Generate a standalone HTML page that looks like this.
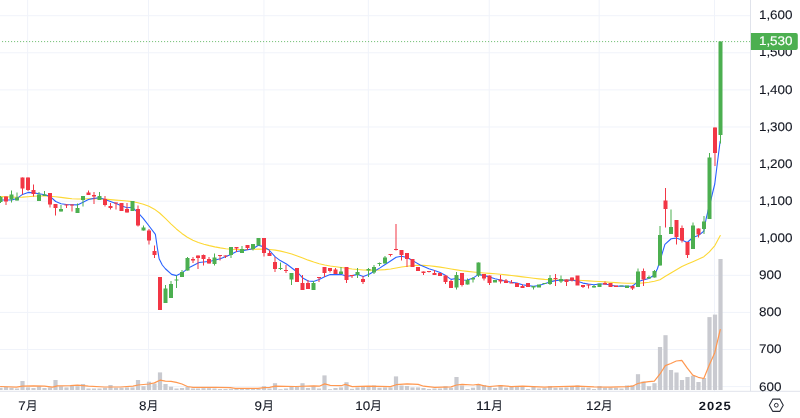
<!DOCTYPE html>
<html lang="ja">
<head>
<meta charset="utf-8">
<title>Chart</title>
<style>
html,body{margin:0;padding:0;background:#ffffff;}
body{width:800px;height:418px;overflow:hidden;font-family:"Liberation Sans","Noto Sans CJK JP",sans-serif;}
svg{display:block;}
</style>
</head>
<body>
<svg width="800" height="418" viewBox="0 0 800 418">
<rect x="0" y="0" width="800" height="418" fill="#ffffff"/>
<g stroke="#f0f3fa" stroke-width="1" fill="none">
<line x1="0" y1="15.7" x2="750.5" y2="15.7"/>
<line x1="0" y1="52.79" x2="750.5" y2="52.79"/>
<line x1="0" y1="89.88" x2="750.5" y2="89.88"/>
<line x1="0" y1="126.97" x2="750.5" y2="126.97"/>
<line x1="0" y1="164.06" x2="750.5" y2="164.06"/>
<line x1="0" y1="201.15" x2="750.5" y2="201.15"/>
<line x1="0" y1="238.24" x2="750.5" y2="238.24"/>
<line x1="0" y1="275.33" x2="750.5" y2="275.33"/>
<line x1="0" y1="312.42" x2="750.5" y2="312.42"/>
<line x1="0" y1="349.51" x2="750.5" y2="349.51"/>
<line x1="0" y1="386.6" x2="750.5" y2="386.6"/>
<line x1="27.65" y1="0" x2="27.65" y2="391.3"/>
<line x1="148.54" y1="0" x2="148.54" y2="391.3"/>
<line x1="263.94" y1="0" x2="263.94" y2="391.3"/>
<line x1="368.34" y1="0" x2="368.34" y2="391.3"/>
<line x1="489.23" y1="0" x2="489.23" y2="391.3"/>
<line x1="599.13" y1="0" x2="599.13" y2="391.3"/>
<line x1="714.52" y1="0" x2="714.52" y2="391.3"/>
</g>
<g fill="#c9cad0">
<rect x="-1.6" y="387.7" width="4.2" height="2.3"/>
<rect x="3.9" y="387" width="4.2" height="3"/>
<rect x="9.4" y="387.7" width="4.2" height="2.3"/>
<rect x="14.9" y="388.5" width="4.2" height="1.5"/>
<rect x="20.4" y="381" width="4.2" height="9"/>
<rect x="25.9" y="387.4" width="4.2" height="2.6"/>
<rect x="31.4" y="388" width="4.2" height="2"/>
<rect x="36.9" y="386.2" width="4.2" height="3.8"/>
<rect x="42.4" y="388" width="4.2" height="2"/>
<rect x="47.9" y="387.4" width="4.2" height="2.6"/>
<rect x="53.4" y="380" width="4.2" height="10"/>
<rect x="58.9" y="386.2" width="4.2" height="3.8"/>
<rect x="64.4" y="387.4" width="4.2" height="2.6"/>
<rect x="69.9" y="385.5" width="4.2" height="4.5"/>
<rect x="75.4" y="386.2" width="4.2" height="3.8"/>
<rect x="80.9" y="384" width="4.2" height="6"/>
<rect x="86.4" y="388.5" width="4.2" height="1.5"/>
<rect x="91.9" y="388.5" width="4.2" height="1.5"/>
<rect x="97.4" y="388.5" width="4.2" height="1.5"/>
<rect x="102.9" y="387.7" width="4.2" height="2.3"/>
<rect x="108.4" y="385" width="4.2" height="5"/>
<rect x="113.9" y="387.7" width="4.2" height="2.3"/>
<rect x="119.4" y="387.7" width="4.2" height="2.3"/>
<rect x="124.9" y="387.4" width="4.2" height="2.6"/>
<rect x="130.4" y="387.4" width="4.2" height="2.6"/>
<rect x="135.9" y="380" width="4.2" height="10"/>
<rect x="141.4" y="386.2" width="4.2" height="3.8"/>
<rect x="146.9" y="381.7" width="4.2" height="8.3"/>
<rect x="152.4" y="383.5" width="4.2" height="6.5"/>
<rect x="157.9" y="372.4" width="4.2" height="17.6"/>
<rect x="163.4" y="384" width="4.2" height="6"/>
<rect x="168.9" y="386.7" width="4.2" height="3.3"/>
<rect x="174.4" y="388.5" width="4.2" height="1.5"/>
<rect x="179.9" y="388" width="4.2" height="2"/>
<rect x="185.4" y="387" width="4.2" height="3"/>
<rect x="190.9" y="388.5" width="4.2" height="1.5"/>
<rect x="195.9" y="388.5" width="4.2" height="1.5"/>
<rect x="201.4" y="388.2" width="4.2" height="1.8"/>
<rect x="206.9" y="388.2" width="4.2" height="1.8"/>
<rect x="212.4" y="388.5" width="4.2" height="1.5"/>
<rect x="217.9" y="389" width="4.2" height="1"/>
<rect x="223.4" y="389" width="4.2" height="1"/>
<rect x="228.9" y="388.8" width="4.2" height="1.2"/>
<rect x="234.4" y="388.8" width="4.2" height="1.2"/>
<rect x="239.9" y="388.8" width="4.2" height="1.2"/>
<rect x="245.4" y="388.8" width="4.2" height="1.2"/>
<rect x="250.9" y="388.8" width="4.2" height="1.2"/>
<rect x="256.4" y="388.8" width="4.2" height="1.2"/>
<rect x="261.9" y="386.2" width="4.2" height="3.8"/>
<rect x="267.4" y="388.5" width="4.2" height="1.5"/>
<rect x="272.9" y="383.2" width="4.2" height="6.8"/>
<rect x="278.4" y="389.2" width="4.2" height="0.8"/>
<rect x="283.9" y="388.5" width="4.2" height="1.5"/>
<rect x="289.4" y="387" width="4.2" height="3"/>
<rect x="294.9" y="387" width="4.2" height="3"/>
<rect x="300.4" y="383.2" width="4.2" height="6.8"/>
<rect x="305.9" y="388" width="4.2" height="2"/>
<rect x="311.4" y="386.2" width="4.2" height="3.8"/>
<rect x="316.9" y="388.5" width="4.2" height="1.5"/>
<rect x="322.4" y="375.4" width="4.2" height="14.6"/>
<rect x="327.9" y="389.2" width="4.2" height="0.8"/>
<rect x="333.4" y="388" width="4.2" height="2"/>
<rect x="338.9" y="387.4" width="4.2" height="2.6"/>
<rect x="344.4" y="382.2" width="4.2" height="7.8"/>
<rect x="349.9" y="388.8" width="4.2" height="1.2"/>
<rect x="355.4" y="387.4" width="4.2" height="2.6"/>
<rect x="360.9" y="387" width="4.2" height="3"/>
<rect x="366.4" y="386.2" width="4.2" height="3.8"/>
<rect x="371.9" y="385.5" width="4.2" height="4.5"/>
<rect x="377.4" y="387.7" width="4.2" height="2.3"/>
<rect x="382.9" y="387.4" width="4.2" height="2.6"/>
<rect x="388.4" y="387.4" width="4.2" height="2.6"/>
<rect x="393.9" y="376.4" width="4.2" height="13.6"/>
<rect x="399.4" y="385.5" width="4.2" height="4.5"/>
<rect x="404.9" y="386" width="4.2" height="4"/>
<rect x="410.4" y="387.4" width="4.2" height="2.6"/>
<rect x="415.9" y="387.4" width="4.2" height="2.6"/>
<rect x="421.4" y="388" width="4.2" height="2"/>
<rect x="426.9" y="389" width="4.2" height="1"/>
<rect x="432.4" y="388.5" width="4.2" height="1.5"/>
<rect x="437.9" y="388.5" width="4.2" height="1.5"/>
<rect x="443.4" y="386.2" width="4.2" height="3.8"/>
<rect x="448.9" y="387.7" width="4.2" height="2.3"/>
<rect x="454.4" y="377" width="4.2" height="13"/>
<rect x="459.9" y="385.5" width="4.2" height="4.5"/>
<rect x="465.4" y="389" width="4.2" height="1"/>
<rect x="470.9" y="387.7" width="4.2" height="2.3"/>
<rect x="476.4" y="384.4" width="4.2" height="5.6"/>
<rect x="481.9" y="385" width="4.2" height="5"/>
<rect x="487.4" y="386.2" width="4.2" height="3.8"/>
<rect x="492.9" y="388" width="4.2" height="2"/>
<rect x="498.4" y="385" width="4.2" height="5"/>
<rect x="503.9" y="387.7" width="4.2" height="2.3"/>
<rect x="509.4" y="387" width="4.2" height="3"/>
<rect x="514.9" y="386.2" width="4.2" height="3.8"/>
<rect x="520.4" y="386.5" width="4.2" height="3.5"/>
<rect x="525.9" y="389" width="4.2" height="1"/>
<rect x="531.4" y="387" width="4.2" height="3"/>
<rect x="536.9" y="388.5" width="4.2" height="1.5"/>
<rect x="542.4" y="388" width="4.2" height="2"/>
<rect x="547.9" y="386" width="4.2" height="4"/>
<rect x="553.4" y="387.7" width="4.2" height="2.3"/>
<rect x="558.9" y="387.7" width="4.2" height="2.3"/>
<rect x="564.4" y="387.4" width="4.2" height="2.6"/>
<rect x="569.9" y="387" width="4.2" height="3"/>
<rect x="575.4" y="385.5" width="4.2" height="4.5"/>
<rect x="580.9" y="387.4" width="4.2" height="2.6"/>
<rect x="586.4" y="387.7" width="4.2" height="2.3"/>
<rect x="591.9" y="389" width="4.2" height="1"/>
<rect x="597.4" y="386" width="4.2" height="4"/>
<rect x="602.9" y="387.7" width="4.2" height="2.3"/>
<rect x="608.4" y="387.7" width="4.2" height="2.3"/>
<rect x="613.9" y="387.7" width="4.2" height="2.3"/>
<rect x="619.4" y="388.5" width="4.2" height="1.5"/>
<rect x="624.9" y="385.5" width="4.2" height="4.5"/>
<rect x="630.4" y="385.5" width="4.2" height="4.5"/>
<rect x="635.9" y="374.2" width="4.2" height="15.8"/>
<rect x="641.4" y="381.5" width="4.2" height="8.5"/>
<rect x="646.9" y="386.2" width="4.2" height="3.8"/>
<rect x="652.4" y="383.2" width="4.2" height="6.8"/>
<rect x="657.9" y="347" width="4.2" height="43"/>
<rect x="663.4" y="335.2" width="4.2" height="54.8"/>
<rect x="668.9" y="370" width="4.2" height="20"/>
<rect x="674.4" y="372.5" width="4.2" height="17.5"/>
<rect x="679.9" y="380" width="4.2" height="10"/>
<rect x="685.4" y="377" width="4.2" height="13"/>
<rect x="690.9" y="375.7" width="4.2" height="14.3"/>
<rect x="696.4" y="382" width="4.2" height="8"/>
<rect x="701.9" y="378" width="4.2" height="12"/>
<rect x="707.4" y="317.1" width="4.2" height="72.9"/>
<rect x="712.9" y="314.6" width="4.2" height="75.4"/>
<rect x="718.4" y="259" width="4.2" height="131"/>
</g>
<path d="M0.52 386.5 L16.51 387.2 L22.5 386.2 L33.49 385.8 L44.48 386.2 L52.48 387.2 L57.47 385.8 L70.46 385.6 L77.45 385.2 L88.44 386.2 L104.43 387 L120.42 387 L133 386.2 L138 385 L148.99 384 L154.38 382.9 L159.98 380.2 L165.37 381.2 L170.97 381.4 L176.36 382.4 L181.96 384 L187.35 386.5 L192.95 387.4 L215.83 387.4 L230.32 387.7 L235.31 388.4 L257.99 388.4 L264.28 387.7 L269.68 387.4 L275.27 386.2 L295.66 386.5 L313.74 385.9 L319.23 386.2 L324.73 383.9 L330.22 385.4 L341.21 385.7 L345.21 384.4 L352.2 386.6 L368.59 386.2 L390.47 386.6 L396.16 384.7 L407.15 383.9 L418.14 384.4 L423.64 386.2 L434.63 387.4 L451.11 386.9 L456.51 385 L462.1 384.4 L473.09 385 L478.49 384.4 L484.08 385.9 L489.48 386.5 L500.57 385.7 L511.56 386.6 L522.55 386.2 L533.54 386.6 L544.53 387.2 L550.02 386.8 L577.4 386.2 L593.98 386.9 L610.27 387.2 L626.95 386.6 L632.35 386.2 L637.85 383.5 L643.34 382.3 L648.84 381.6 L654.33 381.1 L659.83 374.2 L665.32 365.6 L670.82 363.5 L676.31 361 L681.81 360.4 L687.3 368.2 L692.79 375.1 L698.29 377.3 L703.78 378.5 L709.28 365.1 L714.77 352.7 L720.27 329.5" fill="none" stroke="#ff9850" stroke-width="1.2" stroke-linejoin="round" stroke-linecap="round"/>
<path d="M0.52 196.6 L6.02 196.82 L11.51 197.05 L17.01 197.21 L22.5 197.13 L28 196.74 L33.49 196.28 L38.99 196.05 L44.48 196.04 L49.98 196.25 L55.47 196.73 L60.97 197.39 L66.46 198.09 L71.96 198.68 L77.45 199.01 L82.95 199.02 L88.44 198.82 L93.94 198.63 L99.43 198.7 L104.93 199.08 L110.42 199.61 L115.92 200.08 L121.41 200.5 L126.91 200.96 L132.4 201.64 L137.9 202.71 L143.39 204.2 L148.89 206.23 L154.38 209.15 L159.88 213.26 L165.37 218.36 L170.87 223.84 L176.36 228.97 L181.86 233.43 L187.35 237.22 L192.85 240.2 L198.34 242.45 L203.84 244.21 L209.33 245.65 L214.83 246.86 L220.32 247.89 L225.82 248.72 L231.31 249.29 L236.81 249.57 L242.3 249.6 L247.8 249.47 L253.29 249.28 L258.79 249.17 L264.28 249.22 L269.78 249.52 L275.27 250.14 L280.77 251.15 L286.26 252.47 L291.76 254.05 L297.25 255.93 L302.75 258.02 L308.24 260.14 L313.74 262.09 L319.23 263.72 L324.73 265.02 L330.22 265.98 L335.72 266.74 L341.21 267.48 L346.71 268.27 L352.2 269 L357.7 269.57 L363.19 269.94 L368.69 270.12 L374.18 270.13 L379.68 270 L385.17 269.63 L390.67 268.95 L396.16 268.02 L401.66 267.04 L407.15 266.2 L412.65 265.6 L418.14 265.31 L423.64 265.36 L429.13 265.73 L434.63 266.36 L440.12 267.16 L445.62 268.07 L451.11 269 L456.61 269.9 L462.1 270.71 L467.6 271.42 L473.09 272.02 L478.59 272.54 L484.08 272.98 L489.58 273.38 L495.07 273.82 L500.57 274.32 L506.06 274.88 L511.56 275.5 L517.05 276.15 L522.55 276.83 L528.04 277.52 L533.54 278.21 L539.03 278.86 L544.53 279.41 L550.02 279.81 L555.52 280.04 L561.01 280.12 L566.51 280.12 L572 280.17 L577.5 280.32 L582.99 280.57 L588.49 280.88 L593.98 281.23 L599.48 281.56 L604.97 281.87 L610.47 282.2 L615.96 282.58 L621.46 282.94 L626.95 283.2 L632.45 283.3 L637.94 283.21 L643.44 282.89 L648.93 282.27 L654.43 281.21 L659.92 279.75 L665.42 276.34 L670.91 272.93 L676.41 269.67 L681.9 266.57 L687.4 264.12 L692.89 261.68 L698.39 259.23 L703.88 256.68 L709.38 251.89 L714.87 245.6 L720.27 235.6" fill="none" stroke="#fdd835" stroke-width="1.1" stroke-linejoin="round" stroke-linecap="round"/>
<path d="M0.52 200 L11.81 200 L17.11 198.4 L22.5 194.4 L28.1 192.4 L33.49 192.9 L39.19 193.7 L44.68 194.8 L50.08 196.4 L55.67 201.5 L61.07 203.7 L66.46 204.5 L71.96 204.8 L77.45 204.9 L83.05 202.2 L88.44 199.5 L94.04 198.4 L99.43 197.7 L105.03 199.5 L110.42 201.5 L116.02 203.5 L121.41 205.8 L127.01 207.8 L132.4 207.3 L138 212.6 L143.39 218.6 L148.69 225.5 L155.38 234.4 L157.28 247.5 L159.13 258.75 L162.28 265 L165.37 268.75 L171.62 274.4 L176.61 275.6 L181.61 273.1 L190.35 266.9 L199.09 262.5 L210.33 261.25 L220.32 258.75 L230.32 254.8 L236.56 251.5 L242.8 250.6 L252.8 248.75 L258.39 245.25 L264.04 246.9 L269.03 250 L275.27 256.9 L280.27 260.6 L286.51 264 L291.51 267.8 L297.75 272.5 L302.75 278.1 L308.24 281 L313.54 281.4 L319.13 279.6 L324.63 276.7 L330.22 274.5 L335.22 274.6 L341.46 274.4 L346.46 276.25 L352.11 275.6 L357.7 274.4 L363.29 276.6 L368.69 274.4 L373.94 271.5 L379.58 268.1 L385.17 264.5 L390.17 261.25 L396.16 257.3 L401.41 256.2 L407.06 257.5 L412.65 260.6 L420.14 265 L428.89 268.75 L434.53 270.6 L440.12 272.5 L445.72 275.6 L451.01 279.4 L456.51 278.5 L462 280.25 L467.5 280 L473 278.1 L478.49 274.4 L483.99 275.6 L489.48 276.9 L494.98 278.75 L500.47 280 L505.96 281.25 L511.46 282.25 L516.96 283.1 L522.45 284.75 L527.95 285.6 L533.44 286.25 L538.94 285.6 L544.43 283.75 L549.92 281.9 L555.42 280.6 L560.91 280 L566.41 280.25 L571.9 280 L577.4 281.25 L582.89 283.1 L588.39 284 L593.88 284.75 L599.38 284 L604.88 284 L610.37 285 L615.87 286.25 L621.36 286 L626.86 286.25 L632.35 286.25 L636.2 283.1 L639.94 281 L643.34 280 L648.84 278.5 L654.33 275 L657.43 268.75 L659.92 261 L664.92 244.4 L671.16 238.75 L676.31 238.1 L681.81 240 L687.3 242.5 L692.79 237.5 L698.29 235.6 L703.78 231.25 L706.13 218.75 L709.28 206 L711.13 198.75 L714.77 184 L717.37 163 L720.17 141" fill="none" stroke="#2962ff" stroke-width="1.1" stroke-linejoin="round" stroke-linecap="round"/>
<g fill="#4caf50">
<rect x="0" y="196" width="1" height="7"/>
<rect x="-1.5" y="197" width="4" height="5"/>
<rect x="11" y="190.5" width="1" height="12"/>
<rect x="9.5" y="194.5" width="4" height="5"/>
<rect x="16.5" y="192.5" width="1" height="8"/>
<rect x="15" y="197.5" width="4" height="3"/>
<rect x="38.5" y="192" width="1" height="9"/>
<rect x="37" y="194.5" width="4" height="6.5"/>
<rect x="44" y="191" width="1" height="5"/>
<rect x="42.5" y="194.5" width="4" height="1.5"/>
<rect x="60.5" y="205" width="1" height="6.5"/>
<rect x="59" y="209" width="4" height="2.5"/>
<rect x="77" y="203.5" width="1" height="9.5"/>
<rect x="75.5" y="208" width="4" height="5"/>
<rect x="82.5" y="196" width="1" height="10.5"/>
<rect x="81" y="196" width="4" height="4"/>
<rect x="99" y="192" width="1" height="8"/>
<rect x="97.5" y="196" width="4" height="4"/>
<rect x="130.5" y="201" width="4" height="10"/>
<rect x="143" y="225.5" width="1" height="5"/>
<rect x="141.5" y="227.5" width="4" height="3"/>
<rect x="165" y="285" width="1" height="18"/>
<rect x="163.5" y="288.5" width="4" height="14.5"/>
<rect x="170.5" y="281" width="1" height="17"/>
<rect x="169" y="284" width="4" height="14"/>
<rect x="176" y="275.5" width="1" height="12.5"/>
<rect x="174.5" y="279.5" width="4" height="1"/>
<rect x="181.5" y="270" width="1" height="7"/>
<rect x="180" y="272" width="4" height="5"/>
<rect x="187" y="257" width="1" height="13.5"/>
<rect x="185.5" y="258" width="4" height="12.5"/>
<rect x="214" y="253.5" width="1" height="12"/>
<rect x="212.5" y="257.5" width="4" height="6.5"/>
<rect x="230.5" y="247" width="1" height="11"/>
<rect x="229" y="247" width="4" height="8"/>
<rect x="241.5" y="246" width="1" height="7"/>
<rect x="240" y="249" width="4" height="4"/>
<rect x="252.5" y="244" width="1" height="6.5"/>
<rect x="251" y="244" width="4" height="5"/>
<rect x="256.5" y="238" width="4" height="7.5"/>
<rect x="280" y="262.5" width="1" height="7.5"/>
<rect x="278.5" y="268" width="4" height="1"/>
<rect x="291" y="273" width="1" height="12"/>
<rect x="289.5" y="273" width="4" height="6.5"/>
<rect x="313" y="281" width="1" height="9"/>
<rect x="311.5" y="283" width="4" height="7"/>
<rect x="340.5" y="267" width="1" height="7"/>
<rect x="339" y="271.5" width="4" height="2.5"/>
<rect x="357" y="268" width="1" height="10"/>
<rect x="355.5" y="272" width="4" height="3"/>
<rect x="368" y="268" width="1" height="9"/>
<rect x="366.5" y="269" width="4" height="1.5"/>
<rect x="373.5" y="265" width="1" height="9"/>
<rect x="372" y="267" width="4" height="5.5"/>
<rect x="379" y="262.5" width="1" height="3.5"/>
<rect x="377.5" y="263" width="4" height="1"/>
<rect x="384.5" y="256" width="1" height="7.5"/>
<rect x="383" y="257.5" width="4" height="6"/>
<rect x="456" y="272" width="1" height="17.5"/>
<rect x="454.5" y="275" width="4" height="12.5"/>
<rect x="467" y="278.5" width="1" height="6"/>
<rect x="465.5" y="280" width="4" height="4.5"/>
<rect x="472.5" y="277" width="1" height="5.5"/>
<rect x="471" y="278" width="4" height="1.5"/>
<rect x="478" y="262.5" width="1" height="14.5"/>
<rect x="476.5" y="262.5" width="4" height="13"/>
<rect x="493" y="280" width="4" height="2.5"/>
<rect x="533" y="286" width="1" height="3.5"/>
<rect x="531.5" y="286" width="4" height="1.5"/>
<rect x="537" y="284.5" width="4" height="3"/>
<rect x="542.5" y="283" width="4" height="1"/>
<rect x="549.5" y="275" width="1" height="10"/>
<rect x="548" y="278" width="4" height="6"/>
<rect x="560.5" y="275.5" width="1" height="7.5"/>
<rect x="559" y="279" width="4" height="2.5"/>
<rect x="593.5" y="285" width="1" height="2.5"/>
<rect x="592" y="286" width="4" height="1.5"/>
<rect x="597.5" y="283.5" width="4" height="3.5"/>
<rect x="619.5" y="285.5" width="4" height="1"/>
<rect x="625" y="285.5" width="4" height="2.5"/>
<rect x="637.5" y="268.5" width="1" height="18.5"/>
<rect x="636" y="271.5" width="4" height="15.5"/>
<rect x="648.5" y="275.5" width="1" height="3"/>
<rect x="647" y="277" width="4" height="1.5"/>
<rect x="654" y="270" width="1" height="7.5"/>
<rect x="652.5" y="271" width="4" height="6.5"/>
<rect x="659.5" y="226" width="1" height="39.5"/>
<rect x="658" y="235" width="4" height="30.5"/>
<rect x="670.5" y="209.5" width="1" height="24.5"/>
<rect x="669" y="227" width="4" height="7"/>
<rect x="692.5" y="222.5" width="1" height="26.5"/>
<rect x="691" y="225.5" width="4" height="23.5"/>
<rect x="703.5" y="216" width="1" height="18"/>
<rect x="702" y="221.5" width="4" height="7.5"/>
<rect x="709" y="153" width="1" height="66"/>
<rect x="707.5" y="157.5" width="4" height="61.5"/>
<rect x="720" y="41.5" width="1" height="102"/>
<rect x="718.5" y="41.5" width="4" height="93.5"/>
</g>
<g fill="#f23645">
<rect x="5.5" y="196.5" width="1" height="8.5"/>
<rect x="4" y="196.5" width="4" height="5"/>
<rect x="22" y="177.5" width="1" height="17"/>
<rect x="20.5" y="177.5" width="4" height="11"/>
<rect x="27.5" y="177.5" width="1" height="13.5"/>
<rect x="26" y="177.5" width="4" height="12.5"/>
<rect x="33" y="184.5" width="1" height="12"/>
<rect x="31.5" y="190" width="4" height="4"/>
<rect x="49.5" y="193" width="1" height="14.5"/>
<rect x="48" y="193" width="4" height="11.5"/>
<rect x="55" y="204" width="1" height="11.5"/>
<rect x="53.5" y="204" width="4" height="4"/>
<rect x="66" y="204.5" width="1" height="3.5"/>
<rect x="64.5" y="204.5" width="4" height="1"/>
<rect x="71.5" y="204.5" width="1" height="7"/>
<rect x="70" y="204.5" width="4" height="1"/>
<rect x="88" y="190.5" width="1" height="4.5"/>
<rect x="86.5" y="192.5" width="4" height="2.5"/>
<rect x="93.5" y="192" width="1" height="12"/>
<rect x="92" y="195" width="4" height="1.5"/>
<rect x="104.5" y="196" width="1" height="10.5"/>
<rect x="103" y="199" width="4" height="6"/>
<rect x="110" y="203" width="1" height="6.5"/>
<rect x="108.5" y="206" width="4" height="2"/>
<rect x="115.5" y="202.5" width="1" height="7"/>
<rect x="114" y="202.5" width="4" height="1"/>
<rect x="119.5" y="203" width="4" height="8"/>
<rect x="126.5" y="203" width="1" height="9.5"/>
<rect x="125" y="209" width="4" height="3.5"/>
<rect x="137.5" y="205.5" width="1" height="21"/>
<rect x="136" y="209" width="4" height="16.5"/>
<rect x="148.5" y="229" width="1" height="15.5"/>
<rect x="147" y="230.5" width="4" height="10"/>
<rect x="154" y="245.5" width="1" height="12.5"/>
<rect x="152.5" y="251" width="4" height="4"/>
<rect x="158" y="277" width="4" height="33"/>
<rect x="192.5" y="257" width="1" height="6"/>
<rect x="191" y="259" width="4" height="1.5"/>
<rect x="197.5" y="255.5" width="1" height="13.5"/>
<rect x="196" y="255.5" width="4" height="2.5"/>
<rect x="203" y="254.5" width="1" height="11"/>
<rect x="201.5" y="255" width="4" height="4"/>
<rect x="208.5" y="257" width="1" height="6.5"/>
<rect x="207" y="259" width="4" height="4.5"/>
<rect x="219.5" y="255" width="1" height="5.5"/>
<rect x="218" y="255" width="4" height="1"/>
<rect x="225" y="255.5" width="1" height="2.5"/>
<rect x="223.5" y="255.5" width="4" height="1"/>
<rect x="236" y="247" width="1" height="5"/>
<rect x="234.5" y="247" width="4" height="1.5"/>
<rect x="247" y="245" width="1" height="5"/>
<rect x="245.5" y="245" width="4" height="3"/>
<rect x="263.5" y="238" width="1" height="18.5"/>
<rect x="262" y="238" width="4" height="15"/>
<rect x="269" y="250.5" width="1" height="5.5"/>
<rect x="267.5" y="253" width="4" height="3"/>
<rect x="274.5" y="257" width="1" height="15"/>
<rect x="273" y="262" width="4" height="7"/>
<rect x="285.5" y="265" width="1" height="8"/>
<rect x="284" y="270" width="4" height="1"/>
<rect x="295" y="268" width="4" height="14"/>
<rect x="302" y="275" width="1" height="15"/>
<rect x="300.5" y="283" width="4" height="7"/>
<rect x="307.5" y="280" width="1" height="9"/>
<rect x="306" y="283" width="4" height="6"/>
<rect x="318.5" y="277" width="1" height="5"/>
<rect x="317" y="277" width="4" height="1"/>
<rect x="324" y="267" width="1" height="10"/>
<rect x="322.5" y="267" width="4" height="6"/>
<rect x="329.5" y="268" width="1" height="4.5"/>
<rect x="328" y="268" width="4" height="3"/>
<rect x="335" y="268" width="1" height="6"/>
<rect x="333.5" y="269.5" width="4" height="4.5"/>
<rect x="346" y="267" width="1" height="16"/>
<rect x="344.5" y="267" width="4" height="13"/>
<rect x="351.5" y="275" width="1" height="3"/>
<rect x="350" y="275" width="4" height="1"/>
<rect x="362.5" y="276" width="1" height="8"/>
<rect x="361" y="279" width="4" height="3"/>
<rect x="390" y="254" width="1" height="2.5"/>
<rect x="388.5" y="254" width="4" height="1"/>
<rect x="395.5" y="224" width="1" height="26.5"/>
<rect x="394" y="249" width="4" height="1"/>
<rect x="401" y="250" width="1" height="10.5"/>
<rect x="399.5" y="250" width="4" height="5"/>
<rect x="406.5" y="253" width="1" height="14"/>
<rect x="405" y="253" width="4" height="6"/>
<rect x="410.5" y="259" width="4" height="8"/>
<rect x="416" y="267" width="4" height="4"/>
<rect x="423" y="271.5" width="1" height="3.5"/>
<rect x="421.5" y="271.5" width="4" height="1.5"/>
<rect x="428.5" y="271" width="1" height="1.5"/>
<rect x="427" y="271" width="4" height="1"/>
<rect x="434" y="270" width="1" height="5"/>
<rect x="432.5" y="273" width="4" height="2"/>
<rect x="438" y="273" width="4" height="3"/>
<rect x="445" y="275.5" width="1" height="8.5"/>
<rect x="443.5" y="275.5" width="4" height="6.5"/>
<rect x="450.5" y="280" width="1" height="8"/>
<rect x="449" y="281" width="4" height="7"/>
<rect x="461.5" y="273" width="1" height="13.5"/>
<rect x="460" y="273" width="4" height="12"/>
<rect x="483.5" y="274" width="1" height="6.5"/>
<rect x="482" y="274" width="4" height="4.5"/>
<rect x="489" y="275.5" width="1" height="9.5"/>
<rect x="487.5" y="275.5" width="4" height="7.5"/>
<rect x="500" y="275" width="1" height="8.5"/>
<rect x="498.5" y="279.5" width="4" height="2"/>
<rect x="505.5" y="279" width="1" height="4"/>
<rect x="504" y="280.5" width="4" height="2.5"/>
<rect x="511" y="280" width="1" height="3"/>
<rect x="509.5" y="282.5" width="4" height="1"/>
<rect x="515" y="283" width="4" height="4"/>
<rect x="522" y="284.5" width="1" height="3.5"/>
<rect x="520.5" y="286" width="4" height="2"/>
<rect x="526" y="283" width="4" height="4"/>
<rect x="555" y="274" width="1" height="12"/>
<rect x="553.5" y="278" width="4" height="1"/>
<rect x="566" y="279.5" width="1" height="6.5"/>
<rect x="564.5" y="279.5" width="4" height="2.5"/>
<rect x="571.5" y="277.5" width="1" height="4"/>
<rect x="570" y="277.5" width="4" height="3"/>
<rect x="575.5" y="275.5" width="4" height="10"/>
<rect x="582.5" y="285" width="1" height="3"/>
<rect x="581" y="285" width="4" height="2"/>
<rect x="588" y="284.5" width="1" height="4"/>
<rect x="586.5" y="284.5" width="4" height="1"/>
<rect x="604.5" y="281.5" width="1" height="3"/>
<rect x="603" y="283" width="4" height="1.5"/>
<rect x="608.5" y="283" width="4" height="4"/>
<rect x="614" y="285.5" width="4" height="1.5"/>
<rect x="632" y="285.5" width="1" height="4.5"/>
<rect x="630.5" y="286" width="4" height="2.5"/>
<rect x="643" y="268.5" width="1" height="17.5"/>
<rect x="641.5" y="271" width="4" height="8.5"/>
<rect x="665" y="188" width="1" height="39.5"/>
<rect x="663.5" y="200.5" width="4" height="8.5"/>
<rect x="676" y="220" width="1" height="24.5"/>
<rect x="674.5" y="220" width="4" height="17"/>
<rect x="681.5" y="225.5" width="1" height="17"/>
<rect x="680" y="228" width="4" height="12.5"/>
<rect x="687" y="242" width="1" height="16"/>
<rect x="685.5" y="242" width="4" height="13"/>
<rect x="698" y="228.5" width="1" height="9"/>
<rect x="696.5" y="228.5" width="4" height="6"/>
<rect x="714.5" y="127.5" width="1" height="38.5"/>
<rect x="713" y="127.5" width="4" height="25.5"/>
</g>
<line x1="2.1" y1="41.6" x2="750.5" y2="41.6" stroke="#4caf50" stroke-width="1" stroke-dasharray="1 2" stroke-opacity="0.85"/>
<rect x="751" y="0" width="49.5" height="418" fill="#ffffff"/>
<rect x="0" y="391.8" width="800" height="26.7" fill="#ffffff"/>
<line x1="750.5" y1="0" x2="750.5" y2="391.3" stroke="#e0e3eb" stroke-width="1"/>
<line x1="0" y1="391.3" x2="800" y2="391.3" stroke="#e0e3eb" stroke-width="1"/>
<g font-family="'Liberation Sans', 'Noto Sans CJK JP', sans-serif" font-size="12.5" fill="#131722" stroke="#131722" stroke-width="0.1" text-rendering="geometricPrecision">
<text x="758.9" y="19.4" textLength="33.7" lengthAdjust="spacingAndGlyphs">1,600</text>
<text x="758.9" y="56.49" textLength="33.7" lengthAdjust="spacingAndGlyphs">1,500</text>
<text x="758.9" y="93.58" textLength="33.7" lengthAdjust="spacingAndGlyphs">1,400</text>
<text x="758.9" y="130.67" textLength="33.7" lengthAdjust="spacingAndGlyphs">1,300</text>
<text x="758.9" y="167.76" textLength="33.7" lengthAdjust="spacingAndGlyphs">1,200</text>
<text x="758.9" y="204.85" textLength="33.7" lengthAdjust="spacingAndGlyphs">1,100</text>
<text x="758.9" y="241.94" textLength="33.7" lengthAdjust="spacingAndGlyphs">1,000</text>
<text x="758.9" y="279.23" textLength="22.5" lengthAdjust="spacingAndGlyphs">900</text>
<text x="758.9" y="316.32" textLength="22.5" lengthAdjust="spacingAndGlyphs">800</text>
<text x="758.9" y="353.41" textLength="22.5" lengthAdjust="spacingAndGlyphs">700</text>
<text x="758.9" y="390.5" textLength="22.5" lengthAdjust="spacingAndGlyphs">600</text>
</g>
<path d="M750.9 33 H795.8 a2 2 0 0 1 2 2 V47.9 a2 2 0 0 1 -2 2 H750.9 Z" fill="#4caf50"/>
<text x="758.9" y="45.2" font-family="'Liberation Sans', 'Noto Sans CJK JP', sans-serif" font-size="12.5" fill="#ffffff" stroke="#ffffff" stroke-width="0.15" text-rendering="geometricPrecision" textLength="33.7" lengthAdjust="spacingAndGlyphs">1,530</text>
<g font-family="'Liberation Sans', 'Noto Sans CJK JP', sans-serif" fill="#131722" stroke="#131722" stroke-width="0.1" text-rendering="geometricPrecision">
<text y="409.8"><tspan x="18.2" font-size="12.5" textLength="7.49" lengthAdjust="spacingAndGlyphs">7</tspan><tspan x="25.89" font-size="12.3" stroke-width="0.05" textLength="11.6" lengthAdjust="spacingAndGlyphs">月</tspan></text>
<text y="409.8"><tspan x="139.09" font-size="12.5" textLength="7.49" lengthAdjust="spacingAndGlyphs">8</tspan><tspan x="146.78" font-size="12.3" stroke-width="0.05" textLength="11.6" lengthAdjust="spacingAndGlyphs">月</tspan></text>
<text y="409.8"><tspan x="254.49" font-size="12.5" textLength="7.49" lengthAdjust="spacingAndGlyphs">9</tspan><tspan x="262.18" font-size="12.3" stroke-width="0.05" textLength="11.6" lengthAdjust="spacingAndGlyphs">月</tspan></text>
<text y="409.8"><tspan x="355.15" font-size="12.5" textLength="14.98" lengthAdjust="spacingAndGlyphs">10</tspan><tspan x="370.33" font-size="12.3" stroke-width="0.05" textLength="11.6" lengthAdjust="spacingAndGlyphs">月</tspan></text>
<text y="409.8"><tspan x="476.04" font-size="12.5" textLength="14.98" lengthAdjust="spacingAndGlyphs">11</tspan><tspan x="491.22" font-size="12.3" stroke-width="0.05" textLength="11.6" lengthAdjust="spacingAndGlyphs">月</tspan></text>
<text y="409.8"><tspan x="585.94" font-size="12.5" textLength="14.98" lengthAdjust="spacingAndGlyphs">12</tspan><tspan x="601.12" font-size="12.3" stroke-width="0.05" textLength="11.6" lengthAdjust="spacingAndGlyphs">月</tspan></text>
<text transform="translate(698.82 409.6) scale(1.08 1)" font-size="12" font-weight="bold" letter-spacing="0.95" stroke="none">2025</text>
</g>
<g fill="none" stroke="#2a2e39" stroke-width="1.1" stroke-linejoin="round">
<path d="M769.35 405.25 L772.7 399.15 L779.9 399.15 L783.25 405.25 L779.9 411.35 L772.7 411.35 Z"/>
<circle cx="776.3" cy="405.25" r="1.9" stroke-width="1"/>
</g>
</svg>
</body>
</html>
